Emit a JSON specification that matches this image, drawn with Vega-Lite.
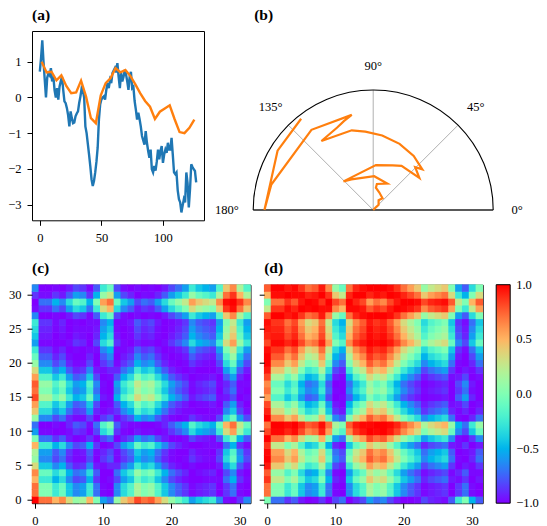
{
"$schema": "https://vega.github.io/schema/vega-lite/v6.json",
"padding": {"left": 7, "top": 7, "right": 2, "bottom": 10},
"config": {
  "font": "Liberation Serif",
  "view": {"stroke": "black", "strokeWidth": 1},
  "axis": {"grid": false, "domain": false, "tickColor": "black", "tickSize": 5, "tickWidth": 1, "labelColor": "black", "labelFontSize": 12.5, "labelFont": "Liberation Serif", "labelFlush": false, "labelAngle": 0},
  "axisX": {"labelPadding": 6},
  "axisY": {"labelPadding": 6},
  "title": {"font": "Liberation Serif", "fontSize": 15.5, "fontWeight": "bold", "anchor": "start", "frame": "group", "baseline": "alphabetic", "offset": 8, "color": "black"}
},
"datasets": {
  "ts": [
{"t":0,"v":0.72},{"t":1,"v":1.1},{"t":2,"v":1.6},{"t":3,"v":1.0},{"t":4,"v":0.5},{"t":5,"v":0.0},{"t":6,"v":0.55},{"t":7,"v":0.68},
{"t":8,"v":0.62},{"t":9,"v":0.82},{"t":10,"v":0.45},{"t":11,"v":0.58},{"t":12,"v":0.2},{"t":13,"v":0.0},{"t":14,"v":0.26},{"t":15,"v":-0.06},
{"t":16,"v":0.3},{"t":17,"v":0.45},{"t":18,"v":0.58},{"t":19,"v":0.21},{"t":20,"v":-0.11},{"t":21,"v":-0.16},{"t":22,"v":-0.3},{"t":23,"v":-0.5},
{"t":24,"v":-0.81},{"t":25,"v":-0.39},{"t":26,"v":-0.58},{"t":27,"v":-0.72},{"t":28,"v":-0.7},{"t":29,"v":-0.53},{"t":30,"v":-0.45},{"t":31,"v":-0.39},
{"t":32,"v":-0.15},{"t":33,"v":0.03},{"t":34,"v":0.26},{"t":35,"v":0.2},{"t":36,"v":0.0},{"t":37,"v":-0.81},{"t":38,"v":-1.0},{"t":39,"v":-1.3},
{"t":40,"v":-1.6},{"t":41,"v":-1.92},{"t":42,"v":-2.29},{"t":43,"v":-2.48},{"t":44,"v":-2.34},{"t":45,"v":-2.1},{"t":46,"v":-1.8},{"t":47,"v":-1.4},
{"t":48,"v":-0.62},{"t":49,"v":-0.2},{"t":50,"v":-0.06},{"t":51,"v":0.0},{"t":52,"v":0.03},{"t":53,"v":-0.06},{"t":54,"v":0.21},{"t":55,"v":0.4},
{"t":56,"v":0.26},{"t":57,"v":0.49},{"t":58,"v":0.4},{"t":59,"v":0.68},{"t":60,"v":0.75},{"t":61,"v":0.82},{"t":62,"v":0.7},{"t":63,"v":0.96},
{"t":64,"v":0.58},{"t":65,"v":0.26},{"t":66,"v":0.68},{"t":67,"v":0.45},{"t":68,"v":0.58},{"t":69,"v":0.77},{"t":70,"v":0.65},{"t":71,"v":0.45},
{"t":72,"v":0.21},{"t":73,"v":0.58},{"t":74,"v":0.72},{"t":75,"v":0.26},{"t":76,"v":0.3},{"t":77,"v":-0.1},{"t":78,"v":-0.34},{"t":79,"v":-0.62},
{"t":80,"v":-0.43},{"t":81,"v":-0.6},{"t":82,"v":-0.81},{"t":83,"v":-1.08},{"t":84,"v":-1.2},{"t":85,"v":-1.32},{"t":86,"v":-0.94},{"t":87,"v":-1.27},
{"t":88,"v":-1.5},{"t":89,"v":-1.69},{"t":90,"v":-1.46},{"t":91,"v":-2.01},{"t":92,"v":-2.1},{"t":93,"v":-1.92},{"t":94,"v":-2.05},{"t":95,"v":-1.8},
{"t":96,"v":-1.46},{"t":97,"v":-1.73},{"t":98,"v":-1.5},{"t":99,"v":-1.36},{"t":100,"v":-1.83},{"t":101,"v":-1.6},{"t":102,"v":-1.46},{"t":103,"v":-1.55},
{"t":104,"v":-1.27},{"t":105,"v":-1.46},{"t":106,"v":-1.46},{"t":107,"v":-1.13},{"t":108,"v":-1.6},{"t":109,"v":-2.1},{"t":110,"v":-2.15},{"t":111,"v":-2.1},
{"t":112,"v":-2.6},{"t":113,"v":-2.85},{"t":114,"v":-2.94},{"t":115,"v":-3.22},{"t":116,"v":-3.03},{"t":117,"v":-2.85},{"t":118,"v":-2.94},{"t":119,"v":-2.1},
{"t":120,"v":-2.4},{"t":121,"v":-3.08},{"t":122,"v":-2.57},{"t":123,"v":-1.87},{"t":124,"v":-1.95},{"t":125,"v":-2.01},{"t":126,"v":-2.06},{"t":127,"v":-2.38}
  ],
  "paa": [
{"t":1.5,"v":1.0},{"t":5.5,"v":0.7},{"t":9.5,"v":0.72},{"t":13.5,"v":0.48},{"t":17.5,"v":0.62},{"t":21.5,"v":0.32},{"t":25.5,"v":0.12},{"t":29.5,"v":0.14},
{"t":33.5,"v":0.47},{"t":37.5,"v":0.03},{"t":41.5,"v":-0.58},{"t":45.5,"v":-0.72},{"t":49.5,"v":0.06},{"t":53.5,"v":0.4},{"t":57.5,"v":0.54},{"t":61.5,"v":0.82},
{"t":65.5,"v":0.7},{"t":69.5,"v":0.77},{"t":73.5,"v":0.6},{"t":77.5,"v":0.37},{"t":81.5,"v":0.12},{"t":85.5,"v":-0.1},{"t":89.5,"v":-0.26},{"t":93.5,"v":-0.6},
{"t":97.5,"v":-0.4},{"t":101.5,"v":-0.31},{"t":105.5,"v":-0.22},{"t":109.5,"v":-0.61},{"t":113.5,"v":-0.97},{"t":117.5,"v":-1.0},{"t":121.5,"v":-0.85},{"t":125.5,"v":-0.62}
  ],
  "polar": [
{"k":0,"px":0,"py":0},{"k":1,"px":0.0219,"py":0.0223},{"k":2,"px":0.045,"py":0.0434},{"k":3,"px":0.045,"py":0.0822},
{"k":4,"px":0.0775,"py":0.0981},{"k":5,"px":0.05,"py":0.148},{"k":6,"px":0.0225,"py":0.1862},{"k":7,"px":0.0306,"py":0.2166},
{"k":8,"px":0.1175,"py":0.2208},{"k":9,"px":0.0084,"py":0.2812},{"k":10,"px":-0.1813,"py":0.2547},{"k":11,"px":-0.2475,"py":0.2386},
{"k":12,"px":0.0225,"py":0.3743},{"k":13,"px":0.1625,"py":0.3725},{"k":14,"px":0.2363,"py":0.3684},{"k":15,"px":0.3844,"py":0.2681},
{"k":16,"px":0.35,"py":0.357},{"k":17,"px":0.4091,"py":0.3389},{"k":18,"px":0.3375,"py":0.45},{"k":19,"px":0.2197,"py":0.5516},
{"k":20,"px":0.075,"py":0.6206},{"k":21,"px":-0.0656,"py":0.653},{"k":22,"px":-0.1788,"py":0.6641},{"k":23,"px":-0.4313,"py":0.575},
{"k":24,"px":-0.3,"py":0.6878},{"k":25,"px":-0.2422,"py":0.743},{"k":26,"px":-0.1788,"py":0.793},{"k":27,"px":-0.5147,"py":0.6683},
{"k":28,"px":-0.8488,"py":0.2126},{"k":29,"px":-0.9063,"py":0},{"k":30,"px":-0.7969,"py":0.4941},{"k":31,"px":-0.6006,"py":0.7605}
  ],
  "gaf": [
{"x":0,"y":0,"c":1,"d":0},{"x":1,"y":0,"c":0.71,"d":-0.71},{"x":2,"y":0,"c":0.71,"d":-0.71},{"x":3,"y":0,"c":0.5,"d":-0.87},{"x":4,"y":0,"c":0.64,"d":-0.77},{"x":5,"y":0,"c":0.34,"d":-0.94},{"x":6,"y":0,"c":0.09,"d":-1},{"x":7,"y":0,"c":0.17,"d":-0.98},{"x":8,"y":0,"c":0.5,"d":-0.87},{"x":9,"y":0,"c":0,"d":-1},{"x":10,"y":0,"c":-0.57,"d":-0.82},{"x":11,"y":0,"c":-0.71,"d":-0.71},{"x":12,"y":0,"c":0.09,"d":-1},{"x":13,"y":0,"c":0.42,"d":-0.91},{"x":14,"y":0,"c":0.57,"d":-0.82},{"x":15,"y":0,"c":0.82,"d":-0.57},{"x":16,"y":0,"c":0.71,"d":-0.71},{"x":17,"y":0,"c":0.77,"d":-0.64},{"x":18,"y":0,"c":0.57,"d":-0.82},{"x":19,"y":0,"c":0.34,"d":-0.94},{"x":20,"y":0,"c":0.09,"d":-1},{"x":21,"y":0,"c":-0.09,"d":-1},{"x":22,"y":0,"c":-0.26,"d":-0.97},{"x":23,"y":0,"c":-0.57,"d":-0.82},{"x":24,"y":0,"c":-0.42,"d":-0.91},{"x":25,"y":0,"c":-0.34,"d":-0.94},{"x":26,"y":0,"c":-0.26,"d":-0.97},{"x":27,"y":0,"c":-0.64,"d":-0.77},{"x":28,"y":0,"c":-0.97,"d":-0.26},{"x":29,"y":0,"c":-1,"d":0},{"x":30,"y":0,"c":-0.87,"d":-0.5},{"x":31,"y":0,"c":-0.64,"d":-0.77},
{"x":0,"y":1,"c":0.71,"d":0.71},{"x":1,"y":1,"c":0,"d":0},{"x":2,"y":1,"c":0,"d":0},{"x":3,"y":1,"c":-0.26,"d":-0.26},{"x":4,"y":1,"c":-0.09,"d":-0.09},{"x":5,"y":1,"c":-0.42,"d":-0.42},{"x":6,"y":1,"c":-0.64,"d":-0.64},{"x":7,"y":1,"c":-0.57,"d":-0.57},{"x":8,"y":1,"c":-0.26,"d":-0.26},{"x":9,"y":1,"c":-0.71,"d":-0.71},{"x":10,"y":1,"c":-0.98,"d":-0.98},{"x":11,"y":1,"c":-1,"d":-1},{"x":12,"y":1,"c":-0.64,"d":-0.64},{"x":13,"y":1,"c":-0.34,"d":-0.34},{"x":14,"y":1,"c":-0.17,"d":-0.17},{"x":15,"y":1,"c":0.17,"d":0.17},{"x":16,"y":1,"c":0,"d":0},{"x":17,"y":1,"c":0.09,"d":0.09},{"x":18,"y":1,"c":-0.17,"d":-0.17},{"x":19,"y":1,"c":-0.42,"d":-0.42},{"x":20,"y":1,"c":-0.64,"d":-0.64},{"x":21,"y":1,"c":-0.77,"d":-0.77},{"x":22,"y":1,"c":-0.87,"d":-0.87},{"x":23,"y":1,"c":-0.98,"d":-0.98},{"x":24,"y":1,"c":-0.94,"d":-0.94},{"x":25,"y":1,"c":-0.91,"d":-0.91},{"x":26,"y":1,"c":-0.87,"d":-0.87},{"x":27,"y":1,"c":-1,"d":-1},{"x":28,"y":1,"c":-0.87,"d":-0.87},{"x":29,"y":1,"c":-0.71,"d":-0.71},{"x":30,"y":1,"c":-0.97,"d":-0.97},{"x":31,"y":1,"c":-1,"d":-1},
{"x":0,"y":2,"c":0.71,"d":0.71},{"x":1,"y":2,"c":0,"d":0},{"x":2,"y":2,"c":0,"d":0},{"x":3,"y":2,"c":-0.26,"d":-0.26},{"x":4,"y":2,"c":-0.09,"d":-0.09},{"x":5,"y":2,"c":-0.42,"d":-0.42},{"x":6,"y":2,"c":-0.64,"d":-0.64},{"x":7,"y":2,"c":-0.57,"d":-0.57},{"x":8,"y":2,"c":-0.26,"d":-0.26},{"x":9,"y":2,"c":-0.71,"d":-0.71},{"x":10,"y":2,"c":-0.98,"d":-0.98},{"x":11,"y":2,"c":-1,"d":-1},{"x":12,"y":2,"c":-0.64,"d":-0.64},{"x":13,"y":2,"c":-0.34,"d":-0.34},{"x":14,"y":2,"c":-0.17,"d":-0.17},{"x":15,"y":2,"c":0.17,"d":0.17},{"x":16,"y":2,"c":0,"d":0},{"x":17,"y":2,"c":0.09,"d":0.09},{"x":18,"y":2,"c":-0.17,"d":-0.17},{"x":19,"y":2,"c":-0.42,"d":-0.42},{"x":20,"y":2,"c":-0.64,"d":-0.64},{"x":21,"y":2,"c":-0.77,"d":-0.77},{"x":22,"y":2,"c":-0.87,"d":-0.87},{"x":23,"y":2,"c":-0.98,"d":-0.98},{"x":24,"y":2,"c":-0.94,"d":-0.94},{"x":25,"y":2,"c":-0.91,"d":-0.91},{"x":26,"y":2,"c":-0.87,"d":-0.87},{"x":27,"y":2,"c":-1,"d":-1},{"x":28,"y":2,"c":-0.87,"d":-0.87},{"x":29,"y":2,"c":-0.71,"d":-0.71},{"x":30,"y":2,"c":-0.97,"d":-0.97},{"x":31,"y":2,"c":-1,"d":-1},
{"x":0,"y":3,"c":0.5,"d":0.87},{"x":1,"y":3,"c":-0.26,"d":0.26},{"x":2,"y":3,"c":-0.26,"d":0.26},{"x":3,"y":3,"c":-0.5,"d":0},{"x":4,"y":3,"c":-0.34,"d":0.17},{"x":5,"y":3,"c":-0.64,"d":-0.17},{"x":6,"y":3,"c":-0.82,"d":-0.42},{"x":7,"y":3,"c":-0.77,"d":-0.34},{"x":8,"y":3,"c":-0.5,"d":0},{"x":9,"y":3,"c":-0.87,"d":-0.5},{"x":10,"y":3,"c":-1,"d":-0.91},{"x":11,"y":3,"c":-0.97,"d":-0.97},{"x":12,"y":3,"c":-0.82,"d":-0.42},{"x":13,"y":3,"c":-0.57,"d":-0.09},{"x":14,"y":3,"c":-0.42,"d":0.09},{"x":15,"y":3,"c":-0.09,"d":0.42},{"x":16,"y":3,"c":-0.26,"d":0.26},{"x":17,"y":3,"c":-0.17,"d":0.34},{"x":18,"y":3,"c":-0.42,"d":0.09},{"x":19,"y":3,"c":-0.64,"d":-0.17},{"x":20,"y":3,"c":-0.82,"d":-0.42},{"x":21,"y":3,"c":-0.91,"d":-0.57},{"x":22,"y":3,"c":-0.97,"d":-0.71},{"x":23,"y":3,"c":-1,"d":-0.91},{"x":24,"y":3,"c":-1,"d":-0.82},{"x":25,"y":3,"c":-0.98,"d":-0.77},{"x":26,"y":3,"c":-0.97,"d":-0.71},{"x":27,"y":3,"c":-0.98,"d":-0.94},{"x":28,"y":3,"c":-0.71,"d":-0.97},{"x":29,"y":3,"c":-0.5,"d":-0.87},{"x":30,"y":3,"c":-0.87,"d":-1},{"x":31,"y":3,"c":-0.98,"d":-0.94},
{"x":0,"y":4,"c":0.64,"d":0.77},{"x":1,"y":4,"c":-0.09,"d":0.09},{"x":2,"y":4,"c":-0.09,"d":0.09},{"x":3,"y":4,"c":-0.34,"d":-0.17},{"x":4,"y":4,"c":-0.17,"d":0},{"x":5,"y":4,"c":-0.5,"d":-0.34},{"x":6,"y":4,"c":-0.71,"d":-0.57},{"x":7,"y":4,"c":-0.64,"d":-0.5},{"x":8,"y":4,"c":-0.34,"d":-0.17},{"x":9,"y":4,"c":-0.77,"d":-0.64},{"x":10,"y":4,"c":-1,"d":-0.97},{"x":11,"y":4,"c":-1,"d":-1},{"x":12,"y":4,"c":-0.71,"d":-0.57},{"x":13,"y":4,"c":-0.42,"d":-0.26},{"x":14,"y":4,"c":-0.26,"d":-0.09},{"x":15,"y":4,"c":0.09,"d":0.26},{"x":16,"y":4,"c":-0.09,"d":0.09},{"x":17,"y":4,"c":0,"d":0.17},{"x":18,"y":4,"c":-0.26,"d":-0.09},{"x":19,"y":4,"c":-0.5,"d":-0.34},{"x":20,"y":4,"c":-0.71,"d":-0.57},{"x":21,"y":4,"c":-0.82,"d":-0.71},{"x":22,"y":4,"c":-0.91,"d":-0.82},{"x":23,"y":4,"c":-1,"d":-0.97},{"x":24,"y":4,"c":-0.97,"d":-0.91},{"x":25,"y":4,"c":-0.94,"d":-0.87},{"x":26,"y":4,"c":-0.91,"d":-0.82},{"x":27,"y":4,"c":-1,"d":-0.98},{"x":28,"y":4,"c":-0.82,"d":-0.91},{"x":29,"y":4,"c":-0.64,"d":-0.77},{"x":30,"y":4,"c":-0.94,"d":-0.98},{"x":31,"y":4,"c":-1,"d":-0.98},
{"x":0,"y":5,"c":0.34,"d":0.94},{"x":1,"y":5,"c":-0.42,"d":0.42},{"x":2,"y":5,"c":-0.42,"d":0.42},{"x":3,"y":5,"c":-0.64,"d":0.17},{"x":4,"y":5,"c":-0.5,"d":0.34},{"x":5,"y":5,"c":-0.77,"d":0},{"x":6,"y":5,"c":-0.91,"d":-0.26},{"x":7,"y":5,"c":-0.87,"d":-0.17},{"x":8,"y":5,"c":-0.64,"d":0.17},{"x":9,"y":5,"c":-0.94,"d":-0.34},{"x":10,"y":5,"c":-0.97,"d":-0.82},{"x":11,"y":5,"c":-0.91,"d":-0.91},{"x":12,"y":5,"c":-0.91,"d":-0.26},{"x":13,"y":5,"c":-0.71,"d":0.09},{"x":14,"y":5,"c":-0.57,"d":0.26},{"x":15,"y":5,"c":-0.26,"d":0.57},{"x":16,"y":5,"c":-0.42,"d":0.42},{"x":17,"y":5,"c":-0.34,"d":0.5},{"x":18,"y":5,"c":-0.57,"d":0.26},{"x":19,"y":5,"c":-0.77,"d":0},{"x":20,"y":5,"c":-0.91,"d":-0.26},{"x":21,"y":5,"c":-0.97,"d":-0.42},{"x":22,"y":5,"c":-1,"d":-0.57},{"x":23,"y":5,"c":-0.97,"d":-0.82},{"x":24,"y":5,"c":-1,"d":-0.71},{"x":25,"y":5,"c":-1,"d":-0.64},{"x":26,"y":5,"c":-1,"d":-0.57},{"x":27,"y":5,"c":-0.94,"d":-0.87},{"x":28,"y":5,"c":-0.57,"d":-1},{"x":29,"y":5,"c":-0.34,"d":-0.94},{"x":30,"y":5,"c":-0.77,"d":-0.98},{"x":31,"y":5,"c":-0.94,"d":-0.87},
{"x":0,"y":6,"c":0.09,"d":1},{"x":1,"y":6,"c":-0.64,"d":0.64},{"x":2,"y":6,"c":-0.64,"d":0.64},{"x":3,"y":6,"c":-0.82,"d":0.42},{"x":4,"y":6,"c":-0.71,"d":0.57},{"x":5,"y":6,"c":-0.91,"d":0.26},{"x":6,"y":6,"c":-0.98,"d":0},{"x":7,"y":6,"c":-0.97,"d":0.09},{"x":8,"y":6,"c":-0.82,"d":0.42},{"x":9,"y":6,"c":-1,"d":-0.09},{"x":10,"y":6,"c":-0.87,"d":-0.64},{"x":11,"y":6,"c":-0.77,"d":-0.77},{"x":12,"y":6,"c":-0.98,"d":0},{"x":13,"y":6,"c":-0.87,"d":0.34},{"x":14,"y":6,"c":-0.77,"d":0.5},{"x":15,"y":6,"c":-0.5,"d":0.77},{"x":16,"y":6,"c":-0.64,"d":0.64},{"x":17,"y":6,"c":-0.57,"d":0.71},{"x":18,"y":6,"c":-0.77,"d":0.5},{"x":19,"y":6,"c":-0.91,"d":0.26},{"x":20,"y":6,"c":-0.98,"d":0},{"x":21,"y":6,"c":-1,"d":-0.17},{"x":22,"y":6,"c":-0.98,"d":-0.34},{"x":23,"y":6,"c":-0.87,"d":-0.64},{"x":24,"y":6,"c":-0.94,"d":-0.5},{"x":25,"y":6,"c":-0.97,"d":-0.42},{"x":26,"y":6,"c":-0.98,"d":-0.34},{"x":27,"y":6,"c":-0.82,"d":-0.71},{"x":28,"y":6,"c":-0.34,"d":-0.98},{"x":29,"y":6,"c":-0.09,"d":-1},{"x":30,"y":6,"c":-0.57,"d":-0.91},{"x":31,"y":6,"c":-0.82,"d":-0.71},
{"x":0,"y":7,"c":0.17,"d":0.98},{"x":1,"y":7,"c":-0.57,"d":0.57},{"x":2,"y":7,"c":-0.57,"d":0.57},{"x":3,"y":7,"c":-0.77,"d":0.34},{"x":4,"y":7,"c":-0.64,"d":0.5},{"x":5,"y":7,"c":-0.87,"d":0.17},{"x":6,"y":7,"c":-0.97,"d":-0.09},{"x":7,"y":7,"c":-0.94,"d":0},{"x":8,"y":7,"c":-0.77,"d":0.34},{"x":9,"y":7,"c":-0.98,"d":-0.17},{"x":10,"y":7,"c":-0.91,"d":-0.71},{"x":11,"y":7,"c":-0.82,"d":-0.82},{"x":12,"y":7,"c":-0.97,"d":-0.09},{"x":13,"y":7,"c":-0.82,"d":0.26},{"x":14,"y":7,"c":-0.71,"d":0.42},{"x":15,"y":7,"c":-0.42,"d":0.71},{"x":16,"y":7,"c":-0.57,"d":0.57},{"x":17,"y":7,"c":-0.5,"d":0.64},{"x":18,"y":7,"c":-0.71,"d":0.42},{"x":19,"y":7,"c":-0.87,"d":0.17},{"x":20,"y":7,"c":-0.97,"d":-0.09},{"x":21,"y":7,"c":-1,"d":-0.26},{"x":22,"y":7,"c":-1,"d":-0.42},{"x":23,"y":7,"c":-0.91,"d":-0.71},{"x":24,"y":7,"c":-0.97,"d":-0.57},{"x":25,"y":7,"c":-0.98,"d":-0.5},{"x":26,"y":7,"c":-1,"d":-0.42},{"x":27,"y":7,"c":-0.87,"d":-0.77},{"x":28,"y":7,"c":-0.42,"d":-1},{"x":29,"y":7,"c":-0.17,"d":-0.98},{"x":30,"y":7,"c":-0.64,"d":-0.94},{"x":31,"y":7,"c":-0.87,"d":-0.77},
{"x":0,"y":8,"c":0.5,"d":0.87},{"x":1,"y":8,"c":-0.26,"d":0.26},{"x":2,"y":8,"c":-0.26,"d":0.26},{"x":3,"y":8,"c":-0.5,"d":0},{"x":4,"y":8,"c":-0.34,"d":0.17},{"x":5,"y":8,"c":-0.64,"d":-0.17},{"x":6,"y":8,"c":-0.82,"d":-0.42},{"x":7,"y":8,"c":-0.77,"d":-0.34},{"x":8,"y":8,"c":-0.5,"d":0},{"x":9,"y":8,"c":-0.87,"d":-0.5},{"x":10,"y":8,"c":-1,"d":-0.91},{"x":11,"y":8,"c":-0.97,"d":-0.97},{"x":12,"y":8,"c":-0.82,"d":-0.42},{"x":13,"y":8,"c":-0.57,"d":-0.09},{"x":14,"y":8,"c":-0.42,"d":0.09},{"x":15,"y":8,"c":-0.09,"d":0.42},{"x":16,"y":8,"c":-0.26,"d":0.26},{"x":17,"y":8,"c":-0.17,"d":0.34},{"x":18,"y":8,"c":-0.42,"d":0.09},{"x":19,"y":8,"c":-0.64,"d":-0.17},{"x":20,"y":8,"c":-0.82,"d":-0.42},{"x":21,"y":8,"c":-0.91,"d":-0.57},{"x":22,"y":8,"c":-0.97,"d":-0.71},{"x":23,"y":8,"c":-1,"d":-0.91},{"x":24,"y":8,"c":-1,"d":-0.82},{"x":25,"y":8,"c":-0.98,"d":-0.77},{"x":26,"y":8,"c":-0.97,"d":-0.71},{"x":27,"y":8,"c":-0.98,"d":-0.94},{"x":28,"y":8,"c":-0.71,"d":-0.97},{"x":29,"y":8,"c":-0.5,"d":-0.87},{"x":30,"y":8,"c":-0.87,"d":-1},{"x":31,"y":8,"c":-0.98,"d":-0.94},
{"x":0,"y":9,"c":0,"d":1},{"x":1,"y":9,"c":-0.71,"d":0.71},{"x":2,"y":9,"c":-0.71,"d":0.71},{"x":3,"y":9,"c":-0.87,"d":0.5},{"x":4,"y":9,"c":-0.77,"d":0.64},{"x":5,"y":9,"c":-0.94,"d":0.34},{"x":6,"y":9,"c":-1,"d":0.09},{"x":7,"y":9,"c":-0.98,"d":0.17},{"x":8,"y":9,"c":-0.87,"d":0.5},{"x":9,"y":9,"c":-1,"d":0},{"x":10,"y":9,"c":-0.82,"d":-0.57},{"x":11,"y":9,"c":-0.71,"d":-0.71},{"x":12,"y":9,"c":-1,"d":0.09},{"x":13,"y":9,"c":-0.91,"d":0.42},{"x":14,"y":9,"c":-0.82,"d":0.57},{"x":15,"y":9,"c":-0.57,"d":0.82},{"x":16,"y":9,"c":-0.71,"d":0.71},{"x":17,"y":9,"c":-0.64,"d":0.77},{"x":18,"y":9,"c":-0.82,"d":0.57},{"x":19,"y":9,"c":-0.94,"d":0.34},{"x":20,"y":9,"c":-1,"d":0.09},{"x":21,"y":9,"c":-1,"d":-0.09},{"x":22,"y":9,"c":-0.97,"d":-0.26},{"x":23,"y":9,"c":-0.82,"d":-0.57},{"x":24,"y":9,"c":-0.91,"d":-0.42},{"x":25,"y":9,"c":-0.94,"d":-0.34},{"x":26,"y":9,"c":-0.97,"d":-0.26},{"x":27,"y":9,"c":-0.77,"d":-0.64},{"x":28,"y":9,"c":-0.26,"d":-0.97},{"x":29,"y":9,"c":0,"d":-1},{"x":30,"y":9,"c":-0.5,"d":-0.87},{"x":31,"y":9,"c":-0.77,"d":-0.64},
{"x":0,"y":10,"c":-0.57,"d":0.82},{"x":1,"y":10,"c":-0.98,"d":0.98},{"x":2,"y":10,"c":-0.98,"d":0.98},{"x":3,"y":10,"c":-1,"d":0.91},{"x":4,"y":10,"c":-1,"d":0.97},{"x":5,"y":10,"c":-0.97,"d":0.82},{"x":6,"y":10,"c":-0.87,"d":0.64},{"x":7,"y":10,"c":-0.91,"d":0.71},{"x":8,"y":10,"c":-1,"d":0.91},{"x":9,"y":10,"c":-0.82,"d":0.57},{"x":10,"y":10,"c":-0.34,"d":0},{"x":11,"y":10,"c":-0.17,"d":-0.17},{"x":12,"y":10,"c":-0.87,"d":0.64},{"x":13,"y":10,"c":-0.98,"d":0.87},{"x":14,"y":10,"c":-1,"d":0.94},{"x":15,"y":10,"c":-0.94,"d":1},{"x":16,"y":10,"c":-0.98,"d":0.98},{"x":17,"y":10,"c":-0.97,"d":1},{"x":18,"y":10,"c":-1,"d":0.94},{"x":19,"y":10,"c":-0.97,"d":0.82},{"x":20,"y":10,"c":-0.87,"d":0.64},{"x":21,"y":10,"c":-0.77,"d":0.5},{"x":22,"y":10,"c":-0.64,"d":0.34},{"x":23,"y":10,"c":-0.34,"d":0},{"x":24,"y":10,"c":-0.5,"d":0.17},{"x":25,"y":10,"c":-0.57,"d":0.26},{"x":26,"y":10,"c":-0.64,"d":0.34},{"x":27,"y":10,"c":-0.26,"d":-0.09},{"x":28,"y":10,"c":0.34,"d":-0.64},{"x":29,"y":10,"c":0.57,"d":-0.82},{"x":30,"y":10,"c":0.09,"d":-0.42},{"x":31,"y":10,"c":-0.26,"d":-0.09},
{"x":0,"y":11,"c":-0.71,"d":0.71},{"x":1,"y":11,"c":-1,"d":1},{"x":2,"y":11,"c":-1,"d":1},{"x":3,"y":11,"c":-0.97,"d":0.97},{"x":4,"y":11,"c":-1,"d":1},{"x":5,"y":11,"c":-0.91,"d":0.91},{"x":6,"y":11,"c":-0.77,"d":0.77},{"x":7,"y":11,"c":-0.82,"d":0.82},{"x":8,"y":11,"c":-0.97,"d":0.97},{"x":9,"y":11,"c":-0.71,"d":0.71},{"x":10,"y":11,"c":-0.17,"d":0.17},{"x":11,"y":11,"c":0,"d":0},{"x":12,"y":11,"c":-0.77,"d":0.77},{"x":13,"y":11,"c":-0.94,"d":0.94},{"x":14,"y":11,"c":-0.98,"d":0.98},{"x":15,"y":11,"c":-0.98,"d":0.98},{"x":16,"y":11,"c":-1,"d":1},{"x":17,"y":11,"c":-1,"d":1},{"x":18,"y":11,"c":-0.98,"d":0.98},{"x":19,"y":11,"c":-0.91,"d":0.91},{"x":20,"y":11,"c":-0.77,"d":0.77},{"x":21,"y":11,"c":-0.64,"d":0.64},{"x":22,"y":11,"c":-0.5,"d":0.5},{"x":23,"y":11,"c":-0.17,"d":0.17},{"x":24,"y":11,"c":-0.34,"d":0.34},{"x":25,"y":11,"c":-0.42,"d":0.42},{"x":26,"y":11,"c":-0.5,"d":0.5},{"x":27,"y":11,"c":-0.09,"d":0.09},{"x":28,"y":11,"c":0.5,"d":-0.5},{"x":29,"y":11,"c":0.71,"d":-0.71},{"x":30,"y":11,"c":0.26,"d":-0.26},{"x":31,"y":11,"c":-0.09,"d":0.09},
{"x":0,"y":12,"c":0.09,"d":1},{"x":1,"y":12,"c":-0.64,"d":0.64},{"x":2,"y":12,"c":-0.64,"d":0.64},{"x":3,"y":12,"c":-0.82,"d":0.42},{"x":4,"y":12,"c":-0.71,"d":0.57},{"x":5,"y":12,"c":-0.91,"d":0.26},{"x":6,"y":12,"c":-0.98,"d":0},{"x":7,"y":12,"c":-0.97,"d":0.09},{"x":8,"y":12,"c":-0.82,"d":0.42},{"x":9,"y":12,"c":-1,"d":-0.09},{"x":10,"y":12,"c":-0.87,"d":-0.64},{"x":11,"y":12,"c":-0.77,"d":-0.77},{"x":12,"y":12,"c":-0.98,"d":0},{"x":13,"y":12,"c":-0.87,"d":0.34},{"x":14,"y":12,"c":-0.77,"d":0.5},{"x":15,"y":12,"c":-0.5,"d":0.77},{"x":16,"y":12,"c":-0.64,"d":0.64},{"x":17,"y":12,"c":-0.57,"d":0.71},{"x":18,"y":12,"c":-0.77,"d":0.5},{"x":19,"y":12,"c":-0.91,"d":0.26},{"x":20,"y":12,"c":-0.98,"d":0},{"x":21,"y":12,"c":-1,"d":-0.17},{"x":22,"y":12,"c":-0.98,"d":-0.34},{"x":23,"y":12,"c":-0.87,"d":-0.64},{"x":24,"y":12,"c":-0.94,"d":-0.5},{"x":25,"y":12,"c":-0.97,"d":-0.42},{"x":26,"y":12,"c":-0.98,"d":-0.34},{"x":27,"y":12,"c":-0.82,"d":-0.71},{"x":28,"y":12,"c":-0.34,"d":-0.98},{"x":29,"y":12,"c":-0.09,"d":-1},{"x":30,"y":12,"c":-0.57,"d":-0.91},{"x":31,"y":12,"c":-0.82,"d":-0.71},
{"x":0,"y":13,"c":0.42,"d":0.91},{"x":1,"y":13,"c":-0.34,"d":0.34},{"x":2,"y":13,"c":-0.34,"d":0.34},{"x":3,"y":13,"c":-0.57,"d":0.09},{"x":4,"y":13,"c":-0.42,"d":0.26},{"x":5,"y":13,"c":-0.71,"d":-0.09},{"x":6,"y":13,"c":-0.87,"d":-0.34},{"x":7,"y":13,"c":-0.82,"d":-0.26},{"x":8,"y":13,"c":-0.57,"d":0.09},{"x":9,"y":13,"c":-0.91,"d":-0.42},{"x":10,"y":13,"c":-0.98,"d":-0.87},{"x":11,"y":13,"c":-0.94,"d":-0.94},{"x":12,"y":13,"c":-0.87,"d":-0.34},{"x":13,"y":13,"c":-0.64,"d":0},{"x":14,"y":13,"c":-0.5,"d":0.17},{"x":15,"y":13,"c":-0.17,"d":0.5},{"x":16,"y":13,"c":-0.34,"d":0.34},{"x":17,"y":13,"c":-0.26,"d":0.42},{"x":18,"y":13,"c":-0.5,"d":0.17},{"x":19,"y":13,"c":-0.71,"d":-0.09},{"x":20,"y":13,"c":-0.87,"d":-0.34},{"x":21,"y":13,"c":-0.94,"d":-0.5},{"x":22,"y":13,"c":-0.98,"d":-0.64},{"x":23,"y":13,"c":-0.98,"d":-0.87},{"x":24,"y":13,"c":-1,"d":-0.77},{"x":25,"y":13,"c":-1,"d":-0.71},{"x":26,"y":13,"c":-0.98,"d":-0.64},{"x":27,"y":13,"c":-0.97,"d":-0.91},{"x":28,"y":13,"c":-0.64,"d":-0.98},{"x":29,"y":13,"c":-0.42,"d":-0.91},{"x":30,"y":13,"c":-0.82,"d":-1},{"x":31,"y":13,"c":-0.97,"d":-0.91},
{"x":0,"y":14,"c":0.57,"d":0.82},{"x":1,"y":14,"c":-0.17,"d":0.17},{"x":2,"y":14,"c":-0.17,"d":0.17},{"x":3,"y":14,"c":-0.42,"d":-0.09},{"x":4,"y":14,"c":-0.26,"d":0.09},{"x":5,"y":14,"c":-0.57,"d":-0.26},{"x":6,"y":14,"c":-0.77,"d":-0.5},{"x":7,"y":14,"c":-0.71,"d":-0.42},{"x":8,"y":14,"c":-0.42,"d":-0.09},{"x":9,"y":14,"c":-0.82,"d":-0.57},{"x":10,"y":14,"c":-1,"d":-0.94},{"x":11,"y":14,"c":-0.98,"d":-0.98},{"x":12,"y":14,"c":-0.77,"d":-0.5},{"x":13,"y":14,"c":-0.5,"d":-0.17},{"x":14,"y":14,"c":-0.34,"d":0},{"x":15,"y":14,"c":0,"d":0.34},{"x":16,"y":14,"c":-0.17,"d":0.17},{"x":17,"y":14,"c":-0.09,"d":0.26},{"x":18,"y":14,"c":-0.34,"d":0},{"x":19,"y":14,"c":-0.57,"d":-0.26},{"x":20,"y":14,"c":-0.77,"d":-0.5},{"x":21,"y":14,"c":-0.87,"d":-0.64},{"x":22,"y":14,"c":-0.94,"d":-0.77},{"x":23,"y":14,"c":-1,"d":-0.94},{"x":24,"y":14,"c":-0.98,"d":-0.87},{"x":25,"y":14,"c":-0.97,"d":-0.82},{"x":26,"y":14,"c":-0.94,"d":-0.77},{"x":27,"y":14,"c":-1,"d":-0.97},{"x":28,"y":14,"c":-0.77,"d":-0.94},{"x":29,"y":14,"c":-0.57,"d":-0.82},{"x":30,"y":14,"c":-0.91,"d":-1},{"x":31,"y":14,"c":-1,"d":-0.97},
{"x":0,"y":15,"c":0.82,"d":0.57},{"x":1,"y":15,"c":0.17,"d":-0.17},{"x":2,"y":15,"c":0.17,"d":-0.17},{"x":3,"y":15,"c":-0.09,"d":-0.42},{"x":4,"y":15,"c":0.09,"d":-0.26},{"x":5,"y":15,"c":-0.26,"d":-0.57},{"x":6,"y":15,"c":-0.5,"d":-0.77},{"x":7,"y":15,"c":-0.42,"d":-0.71},{"x":8,"y":15,"c":-0.09,"d":-0.42},{"x":9,"y":15,"c":-0.57,"d":-0.82},{"x":10,"y":15,"c":-0.94,"d":-1},{"x":11,"y":15,"c":-0.98,"d":-0.98},{"x":12,"y":15,"c":-0.5,"d":-0.77},{"x":13,"y":15,"c":-0.17,"d":-0.5},{"x":14,"y":15,"c":0,"d":-0.34},{"x":15,"y":15,"c":0.34,"d":0},{"x":16,"y":15,"c":0.17,"d":-0.17},{"x":17,"y":15,"c":0.26,"d":-0.09},{"x":18,"y":15,"c":0,"d":-0.34},{"x":19,"y":15,"c":-0.26,"d":-0.57},{"x":20,"y":15,"c":-0.5,"d":-0.77},{"x":21,"y":15,"c":-0.64,"d":-0.87},{"x":22,"y":15,"c":-0.77,"d":-0.94},{"x":23,"y":15,"c":-0.94,"d":-1},{"x":24,"y":15,"c":-0.87,"d":-0.98},{"x":25,"y":15,"c":-0.82,"d":-0.97},{"x":26,"y":15,"c":-0.77,"d":-0.94},{"x":27,"y":15,"c":-0.97,"d":-1},{"x":28,"y":15,"c":-0.94,"d":-0.77},{"x":29,"y":15,"c":-0.82,"d":-0.57},{"x":30,"y":15,"c":-1,"d":-0.91},{"x":31,"y":15,"c":-0.97,"d":-1},
{"x":0,"y":16,"c":0.71,"d":0.71},{"x":1,"y":16,"c":0,"d":0},{"x":2,"y":16,"c":0,"d":0},{"x":3,"y":16,"c":-0.26,"d":-0.26},{"x":4,"y":16,"c":-0.09,"d":-0.09},{"x":5,"y":16,"c":-0.42,"d":-0.42},{"x":6,"y":16,"c":-0.64,"d":-0.64},{"x":7,"y":16,"c":-0.57,"d":-0.57},{"x":8,"y":16,"c":-0.26,"d":-0.26},{"x":9,"y":16,"c":-0.71,"d":-0.71},{"x":10,"y":16,"c":-0.98,"d":-0.98},{"x":11,"y":16,"c":-1,"d":-1},{"x":12,"y":16,"c":-0.64,"d":-0.64},{"x":13,"y":16,"c":-0.34,"d":-0.34},{"x":14,"y":16,"c":-0.17,"d":-0.17},{"x":15,"y":16,"c":0.17,"d":0.17},{"x":16,"y":16,"c":0,"d":0},{"x":17,"y":16,"c":0.09,"d":0.09},{"x":18,"y":16,"c":-0.17,"d":-0.17},{"x":19,"y":16,"c":-0.42,"d":-0.42},{"x":20,"y":16,"c":-0.64,"d":-0.64},{"x":21,"y":16,"c":-0.77,"d":-0.77},{"x":22,"y":16,"c":-0.87,"d":-0.87},{"x":23,"y":16,"c":-0.98,"d":-0.98},{"x":24,"y":16,"c":-0.94,"d":-0.94},{"x":25,"y":16,"c":-0.91,"d":-0.91},{"x":26,"y":16,"c":-0.87,"d":-0.87},{"x":27,"y":16,"c":-1,"d":-1},{"x":28,"y":16,"c":-0.87,"d":-0.87},{"x":29,"y":16,"c":-0.71,"d":-0.71},{"x":30,"y":16,"c":-0.97,"d":-0.97},{"x":31,"y":16,"c":-1,"d":-1},
{"x":0,"y":17,"c":0.77,"d":0.64},{"x":1,"y":17,"c":0.09,"d":-0.09},{"x":2,"y":17,"c":0.09,"d":-0.09},{"x":3,"y":17,"c":-0.17,"d":-0.34},{"x":4,"y":17,"c":0,"d":-0.17},{"x":5,"y":17,"c":-0.34,"d":-0.5},{"x":6,"y":17,"c":-0.57,"d":-0.71},{"x":7,"y":17,"c":-0.5,"d":-0.64},{"x":8,"y":17,"c":-0.17,"d":-0.34},{"x":9,"y":17,"c":-0.64,"d":-0.77},{"x":10,"y":17,"c":-0.97,"d":-1},{"x":11,"y":17,"c":-1,"d":-1},{"x":12,"y":17,"c":-0.57,"d":-0.71},{"x":13,"y":17,"c":-0.26,"d":-0.42},{"x":14,"y":17,"c":-0.09,"d":-0.26},{"x":15,"y":17,"c":0.26,"d":0.09},{"x":16,"y":17,"c":0.09,"d":-0.09},{"x":17,"y":17,"c":0.17,"d":0},{"x":18,"y":17,"c":-0.09,"d":-0.26},{"x":19,"y":17,"c":-0.34,"d":-0.5},{"x":20,"y":17,"c":-0.57,"d":-0.71},{"x":21,"y":17,"c":-0.71,"d":-0.82},{"x":22,"y":17,"c":-0.82,"d":-0.91},{"x":23,"y":17,"c":-0.97,"d":-1},{"x":24,"y":17,"c":-0.91,"d":-0.97},{"x":25,"y":17,"c":-0.87,"d":-0.94},{"x":26,"y":17,"c":-0.82,"d":-0.91},{"x":27,"y":17,"c":-0.98,"d":-1},{"x":28,"y":17,"c":-0.91,"d":-0.82},{"x":29,"y":17,"c":-0.77,"d":-0.64},{"x":30,"y":17,"c":-0.98,"d":-0.94},{"x":31,"y":17,"c":-0.98,"d":-1},
{"x":0,"y":18,"c":0.57,"d":0.82},{"x":1,"y":18,"c":-0.17,"d":0.17},{"x":2,"y":18,"c":-0.17,"d":0.17},{"x":3,"y":18,"c":-0.42,"d":-0.09},{"x":4,"y":18,"c":-0.26,"d":0.09},{"x":5,"y":18,"c":-0.57,"d":-0.26},{"x":6,"y":18,"c":-0.77,"d":-0.5},{"x":7,"y":18,"c":-0.71,"d":-0.42},{"x":8,"y":18,"c":-0.42,"d":-0.09},{"x":9,"y":18,"c":-0.82,"d":-0.57},{"x":10,"y":18,"c":-1,"d":-0.94},{"x":11,"y":18,"c":-0.98,"d":-0.98},{"x":12,"y":18,"c":-0.77,"d":-0.5},{"x":13,"y":18,"c":-0.5,"d":-0.17},{"x":14,"y":18,"c":-0.34,"d":0},{"x":15,"y":18,"c":0,"d":0.34},{"x":16,"y":18,"c":-0.17,"d":0.17},{"x":17,"y":18,"c":-0.09,"d":0.26},{"x":18,"y":18,"c":-0.34,"d":0},{"x":19,"y":18,"c":-0.57,"d":-0.26},{"x":20,"y":18,"c":-0.77,"d":-0.5},{"x":21,"y":18,"c":-0.87,"d":-0.64},{"x":22,"y":18,"c":-0.94,"d":-0.77},{"x":23,"y":18,"c":-1,"d":-0.94},{"x":24,"y":18,"c":-0.98,"d":-0.87},{"x":25,"y":18,"c":-0.97,"d":-0.82},{"x":26,"y":18,"c":-0.94,"d":-0.77},{"x":27,"y":18,"c":-1,"d":-0.97},{"x":28,"y":18,"c":-0.77,"d":-0.94},{"x":29,"y":18,"c":-0.57,"d":-0.82},{"x":30,"y":18,"c":-0.91,"d":-1},{"x":31,"y":18,"c":-1,"d":-0.97},
{"x":0,"y":19,"c":0.34,"d":0.94},{"x":1,"y":19,"c":-0.42,"d":0.42},{"x":2,"y":19,"c":-0.42,"d":0.42},{"x":3,"y":19,"c":-0.64,"d":0.17},{"x":4,"y":19,"c":-0.5,"d":0.34},{"x":5,"y":19,"c":-0.77,"d":0},{"x":6,"y":19,"c":-0.91,"d":-0.26},{"x":7,"y":19,"c":-0.87,"d":-0.17},{"x":8,"y":19,"c":-0.64,"d":0.17},{"x":9,"y":19,"c":-0.94,"d":-0.34},{"x":10,"y":19,"c":-0.97,"d":-0.82},{"x":11,"y":19,"c":-0.91,"d":-0.91},{"x":12,"y":19,"c":-0.91,"d":-0.26},{"x":13,"y":19,"c":-0.71,"d":0.09},{"x":14,"y":19,"c":-0.57,"d":0.26},{"x":15,"y":19,"c":-0.26,"d":0.57},{"x":16,"y":19,"c":-0.42,"d":0.42},{"x":17,"y":19,"c":-0.34,"d":0.5},{"x":18,"y":19,"c":-0.57,"d":0.26},{"x":19,"y":19,"c":-0.77,"d":0},{"x":20,"y":19,"c":-0.91,"d":-0.26},{"x":21,"y":19,"c":-0.97,"d":-0.42},{"x":22,"y":19,"c":-1,"d":-0.57},{"x":23,"y":19,"c":-0.97,"d":-0.82},{"x":24,"y":19,"c":-1,"d":-0.71},{"x":25,"y":19,"c":-1,"d":-0.64},{"x":26,"y":19,"c":-1,"d":-0.57},{"x":27,"y":19,"c":-0.94,"d":-0.87},{"x":28,"y":19,"c":-0.57,"d":-1},{"x":29,"y":19,"c":-0.34,"d":-0.94},{"x":30,"y":19,"c":-0.77,"d":-0.98},{"x":31,"y":19,"c":-0.94,"d":-0.87},
{"x":0,"y":20,"c":0.09,"d":1},{"x":1,"y":20,"c":-0.64,"d":0.64},{"x":2,"y":20,"c":-0.64,"d":0.64},{"x":3,"y":20,"c":-0.82,"d":0.42},{"x":4,"y":20,"c":-0.71,"d":0.57},{"x":5,"y":20,"c":-0.91,"d":0.26},{"x":6,"y":20,"c":-0.98,"d":0},{"x":7,"y":20,"c":-0.97,"d":0.09},{"x":8,"y":20,"c":-0.82,"d":0.42},{"x":9,"y":20,"c":-1,"d":-0.09},{"x":10,"y":20,"c":-0.87,"d":-0.64},{"x":11,"y":20,"c":-0.77,"d":-0.77},{"x":12,"y":20,"c":-0.98,"d":0},{"x":13,"y":20,"c":-0.87,"d":0.34},{"x":14,"y":20,"c":-0.77,"d":0.5},{"x":15,"y":20,"c":-0.5,"d":0.77},{"x":16,"y":20,"c":-0.64,"d":0.64},{"x":17,"y":20,"c":-0.57,"d":0.71},{"x":18,"y":20,"c":-0.77,"d":0.5},{"x":19,"y":20,"c":-0.91,"d":0.26},{"x":20,"y":20,"c":-0.98,"d":0},{"x":21,"y":20,"c":-1,"d":-0.17},{"x":22,"y":20,"c":-0.98,"d":-0.34},{"x":23,"y":20,"c":-0.87,"d":-0.64},{"x":24,"y":20,"c":-0.94,"d":-0.5},{"x":25,"y":20,"c":-0.97,"d":-0.42},{"x":26,"y":20,"c":-0.98,"d":-0.34},{"x":27,"y":20,"c":-0.82,"d":-0.71},{"x":28,"y":20,"c":-0.34,"d":-0.98},{"x":29,"y":20,"c":-0.09,"d":-1},{"x":30,"y":20,"c":-0.57,"d":-0.91},{"x":31,"y":20,"c":-0.82,"d":-0.71},
{"x":0,"y":21,"c":-0.09,"d":1},{"x":1,"y":21,"c":-0.77,"d":0.77},{"x":2,"y":21,"c":-0.77,"d":0.77},{"x":3,"y":21,"c":-0.91,"d":0.57},{"x":4,"y":21,"c":-0.82,"d":0.71},{"x":5,"y":21,"c":-0.97,"d":0.42},{"x":6,"y":21,"c":-1,"d":0.17},{"x":7,"y":21,"c":-1,"d":0.26},{"x":8,"y":21,"c":-0.91,"d":0.57},{"x":9,"y":21,"c":-1,"d":0.09},{"x":10,"y":21,"c":-0.77,"d":-0.5},{"x":11,"y":21,"c":-0.64,"d":-0.64},{"x":12,"y":21,"c":-1,"d":0.17},{"x":13,"y":21,"c":-0.94,"d":0.5},{"x":14,"y":21,"c":-0.87,"d":0.64},{"x":15,"y":21,"c":-0.64,"d":0.87},{"x":16,"y":21,"c":-0.77,"d":0.77},{"x":17,"y":21,"c":-0.71,"d":0.82},{"x":18,"y":21,"c":-0.87,"d":0.64},{"x":19,"y":21,"c":-0.97,"d":0.42},{"x":20,"y":21,"c":-1,"d":0.17},{"x":21,"y":21,"c":-0.98,"d":0},{"x":22,"y":21,"c":-0.94,"d":-0.17},{"x":23,"y":21,"c":-0.77,"d":-0.5},{"x":24,"y":21,"c":-0.87,"d":-0.34},{"x":25,"y":21,"c":-0.91,"d":-0.26},{"x":26,"y":21,"c":-0.94,"d":-0.17},{"x":27,"y":21,"c":-0.71,"d":-0.57},{"x":28,"y":21,"c":-0.17,"d":-0.94},{"x":29,"y":21,"c":0.09,"d":-1},{"x":30,"y":21,"c":-0.42,"d":-0.82},{"x":31,"y":21,"c":-0.71,"d":-0.57},
{"x":0,"y":22,"c":-0.26,"d":0.97},{"x":1,"y":22,"c":-0.87,"d":0.87},{"x":2,"y":22,"c":-0.87,"d":0.87},{"x":3,"y":22,"c":-0.97,"d":0.71},{"x":4,"y":22,"c":-0.91,"d":0.82},{"x":5,"y":22,"c":-1,"d":0.57},{"x":6,"y":22,"c":-0.98,"d":0.34},{"x":7,"y":22,"c":-1,"d":0.42},{"x":8,"y":22,"c":-0.97,"d":0.71},{"x":9,"y":22,"c":-0.97,"d":0.26},{"x":10,"y":22,"c":-0.64,"d":-0.34},{"x":11,"y":22,"c":-0.5,"d":-0.5},{"x":12,"y":22,"c":-0.98,"d":0.34},{"x":13,"y":22,"c":-0.98,"d":0.64},{"x":14,"y":22,"c":-0.94,"d":0.77},{"x":15,"y":22,"c":-0.77,"d":0.94},{"x":16,"y":22,"c":-0.87,"d":0.87},{"x":17,"y":22,"c":-0.82,"d":0.91},{"x":18,"y":22,"c":-0.94,"d":0.77},{"x":19,"y":22,"c":-1,"d":0.57},{"x":20,"y":22,"c":-0.98,"d":0.34},{"x":21,"y":22,"c":-0.94,"d":0.17},{"x":22,"y":22,"c":-0.87,"d":0},{"x":23,"y":22,"c":-0.64,"d":-0.34},{"x":24,"y":22,"c":-0.77,"d":-0.17},{"x":25,"y":22,"c":-0.82,"d":-0.09},{"x":26,"y":22,"c":-0.87,"d":0},{"x":27,"y":22,"c":-0.57,"d":-0.42},{"x":28,"y":22,"c":0,"d":-0.87},{"x":29,"y":22,"c":0.26,"d":-0.97},{"x":30,"y":22,"c":-0.26,"d":-0.71},{"x":31,"y":22,"c":-0.57,"d":-0.42},
{"x":0,"y":23,"c":-0.57,"d":0.82},{"x":1,"y":23,"c":-0.98,"d":0.98},{"x":2,"y":23,"c":-0.98,"d":0.98},{"x":3,"y":23,"c":-1,"d":0.91},{"x":4,"y":23,"c":-1,"d":0.97},{"x":5,"y":23,"c":-0.97,"d":0.82},{"x":6,"y":23,"c":-0.87,"d":0.64},{"x":7,"y":23,"c":-0.91,"d":0.71},{"x":8,"y":23,"c":-1,"d":0.91},{"x":9,"y":23,"c":-0.82,"d":0.57},{"x":10,"y":23,"c":-0.34,"d":0},{"x":11,"y":23,"c":-0.17,"d":-0.17},{"x":12,"y":23,"c":-0.87,"d":0.64},{"x":13,"y":23,"c":-0.98,"d":0.87},{"x":14,"y":23,"c":-1,"d":0.94},{"x":15,"y":23,"c":-0.94,"d":1},{"x":16,"y":23,"c":-0.98,"d":0.98},{"x":17,"y":23,"c":-0.97,"d":1},{"x":18,"y":23,"c":-1,"d":0.94},{"x":19,"y":23,"c":-0.97,"d":0.82},{"x":20,"y":23,"c":-0.87,"d":0.64},{"x":21,"y":23,"c":-0.77,"d":0.5},{"x":22,"y":23,"c":-0.64,"d":0.34},{"x":23,"y":23,"c":-0.34,"d":0},{"x":24,"y":23,"c":-0.5,"d":0.17},{"x":25,"y":23,"c":-0.57,"d":0.26},{"x":26,"y":23,"c":-0.64,"d":0.34},{"x":27,"y":23,"c":-0.26,"d":-0.09},{"x":28,"y":23,"c":0.34,"d":-0.64},{"x":29,"y":23,"c":0.57,"d":-0.82},{"x":30,"y":23,"c":0.09,"d":-0.42},{"x":31,"y":23,"c":-0.26,"d":-0.09},
{"x":0,"y":24,"c":-0.42,"d":0.91},{"x":1,"y":24,"c":-0.94,"d":0.94},{"x":2,"y":24,"c":-0.94,"d":0.94},{"x":3,"y":24,"c":-1,"d":0.82},{"x":4,"y":24,"c":-0.97,"d":0.91},{"x":5,"y":24,"c":-1,"d":0.71},{"x":6,"y":24,"c":-0.94,"d":0.5},{"x":7,"y":24,"c":-0.97,"d":0.57},{"x":8,"y":24,"c":-1,"d":0.82},{"x":9,"y":24,"c":-0.91,"d":0.42},{"x":10,"y":24,"c":-0.5,"d":-0.17},{"x":11,"y":24,"c":-0.34,"d":-0.34},{"x":12,"y":24,"c":-0.94,"d":0.5},{"x":13,"y":24,"c":-1,"d":0.77},{"x":14,"y":24,"c":-0.98,"d":0.87},{"x":15,"y":24,"c":-0.87,"d":0.98},{"x":16,"y":24,"c":-0.94,"d":0.94},{"x":17,"y":24,"c":-0.91,"d":0.97},{"x":18,"y":24,"c":-0.98,"d":0.87},{"x":19,"y":24,"c":-1,"d":0.71},{"x":20,"y":24,"c":-0.94,"d":0.5},{"x":21,"y":24,"c":-0.87,"d":0.34},{"x":22,"y":24,"c":-0.77,"d":0.17},{"x":23,"y":24,"c":-0.5,"d":-0.17},{"x":24,"y":24,"c":-0.64,"d":0},{"x":25,"y":24,"c":-0.71,"d":0.09},{"x":26,"y":24,"c":-0.77,"d":0.17},{"x":27,"y":24,"c":-0.42,"d":-0.26},{"x":28,"y":24,"c":0.17,"d":-0.77},{"x":29,"y":24,"c":0.42,"d":-0.91},{"x":30,"y":24,"c":-0.09,"d":-0.57},{"x":31,"y":24,"c":-0.42,"d":-0.26},
{"x":0,"y":25,"c":-0.34,"d":0.94},{"x":1,"y":25,"c":-0.91,"d":0.91},{"x":2,"y":25,"c":-0.91,"d":0.91},{"x":3,"y":25,"c":-0.98,"d":0.77},{"x":4,"y":25,"c":-0.94,"d":0.87},{"x":5,"y":25,"c":-1,"d":0.64},{"x":6,"y":25,"c":-0.97,"d":0.42},{"x":7,"y":25,"c":-0.98,"d":0.5},{"x":8,"y":25,"c":-0.98,"d":0.77},{"x":9,"y":25,"c":-0.94,"d":0.34},{"x":10,"y":25,"c":-0.57,"d":-0.26},{"x":11,"y":25,"c":-0.42,"d":-0.42},{"x":12,"y":25,"c":-0.97,"d":0.42},{"x":13,"y":25,"c":-1,"d":0.71},{"x":14,"y":25,"c":-0.97,"d":0.82},{"x":15,"y":25,"c":-0.82,"d":0.97},{"x":16,"y":25,"c":-0.91,"d":0.91},{"x":17,"y":25,"c":-0.87,"d":0.94},{"x":18,"y":25,"c":-0.97,"d":0.82},{"x":19,"y":25,"c":-1,"d":0.64},{"x":20,"y":25,"c":-0.97,"d":0.42},{"x":21,"y":25,"c":-0.91,"d":0.26},{"x":22,"y":25,"c":-0.82,"d":0.09},{"x":23,"y":25,"c":-0.57,"d":-0.26},{"x":24,"y":25,"c":-0.71,"d":-0.09},{"x":25,"y":25,"c":-0.77,"d":0},{"x":26,"y":25,"c":-0.82,"d":0.09},{"x":27,"y":25,"c":-0.5,"d":-0.34},{"x":28,"y":25,"c":0.09,"d":-0.82},{"x":29,"y":25,"c":0.34,"d":-0.94},{"x":30,"y":25,"c":-0.17,"d":-0.64},{"x":31,"y":25,"c":-0.5,"d":-0.34},
{"x":0,"y":26,"c":-0.26,"d":0.97},{"x":1,"y":26,"c":-0.87,"d":0.87},{"x":2,"y":26,"c":-0.87,"d":0.87},{"x":3,"y":26,"c":-0.97,"d":0.71},{"x":4,"y":26,"c":-0.91,"d":0.82},{"x":5,"y":26,"c":-1,"d":0.57},{"x":6,"y":26,"c":-0.98,"d":0.34},{"x":7,"y":26,"c":-1,"d":0.42},{"x":8,"y":26,"c":-0.97,"d":0.71},{"x":9,"y":26,"c":-0.97,"d":0.26},{"x":10,"y":26,"c":-0.64,"d":-0.34},{"x":11,"y":26,"c":-0.5,"d":-0.5},{"x":12,"y":26,"c":-0.98,"d":0.34},{"x":13,"y":26,"c":-0.98,"d":0.64},{"x":14,"y":26,"c":-0.94,"d":0.77},{"x":15,"y":26,"c":-0.77,"d":0.94},{"x":16,"y":26,"c":-0.87,"d":0.87},{"x":17,"y":26,"c":-0.82,"d":0.91},{"x":18,"y":26,"c":-0.94,"d":0.77},{"x":19,"y":26,"c":-1,"d":0.57},{"x":20,"y":26,"c":-0.98,"d":0.34},{"x":21,"y":26,"c":-0.94,"d":0.17},{"x":22,"y":26,"c":-0.87,"d":0},{"x":23,"y":26,"c":-0.64,"d":-0.34},{"x":24,"y":26,"c":-0.77,"d":-0.17},{"x":25,"y":26,"c":-0.82,"d":-0.09},{"x":26,"y":26,"c":-0.87,"d":0},{"x":27,"y":26,"c":-0.57,"d":-0.42},{"x":28,"y":26,"c":0,"d":-0.87},{"x":29,"y":26,"c":0.26,"d":-0.97},{"x":30,"y":26,"c":-0.26,"d":-0.71},{"x":31,"y":26,"c":-0.57,"d":-0.42},
{"x":0,"y":27,"c":-0.64,"d":0.77},{"x":1,"y":27,"c":-1,"d":1},{"x":2,"y":27,"c":-1,"d":1},{"x":3,"y":27,"c":-0.98,"d":0.94},{"x":4,"y":27,"c":-1,"d":0.98},{"x":5,"y":27,"c":-0.94,"d":0.87},{"x":6,"y":27,"c":-0.82,"d":0.71},{"x":7,"y":27,"c":-0.87,"d":0.77},{"x":8,"y":27,"c":-0.98,"d":0.94},{"x":9,"y":27,"c":-0.77,"d":0.64},{"x":10,"y":27,"c":-0.26,"d":0.09},{"x":11,"y":27,"c":-0.09,"d":-0.09},{"x":12,"y":27,"c":-0.82,"d":0.71},{"x":13,"y":27,"c":-0.97,"d":0.91},{"x":14,"y":27,"c":-1,"d":0.97},{"x":15,"y":27,"c":-0.97,"d":1},{"x":16,"y":27,"c":-1,"d":1},{"x":17,"y":27,"c":-0.98,"d":1},{"x":18,"y":27,"c":-1,"d":0.97},{"x":19,"y":27,"c":-0.94,"d":0.87},{"x":20,"y":27,"c":-0.82,"d":0.71},{"x":21,"y":27,"c":-0.71,"d":0.57},{"x":22,"y":27,"c":-0.57,"d":0.42},{"x":23,"y":27,"c":-0.26,"d":0.09},{"x":24,"y":27,"c":-0.42,"d":0.26},{"x":25,"y":27,"c":-0.5,"d":0.34},{"x":26,"y":27,"c":-0.57,"d":0.42},{"x":27,"y":27,"c":-0.17,"d":0},{"x":28,"y":27,"c":0.42,"d":-0.57},{"x":29,"y":27,"c":0.64,"d":-0.77},{"x":30,"y":27,"c":0.17,"d":-0.34},{"x":31,"y":27,"c":-0.17,"d":0},
{"x":0,"y":28,"c":-0.97,"d":0.26},{"x":1,"y":28,"c":-0.87,"d":0.87},{"x":2,"y":28,"c":-0.87,"d":0.87},{"x":3,"y":28,"c":-0.71,"d":0.97},{"x":4,"y":28,"c":-0.82,"d":0.91},{"x":5,"y":28,"c":-0.57,"d":1},{"x":6,"y":28,"c":-0.34,"d":0.98},{"x":7,"y":28,"c":-0.42,"d":1},{"x":8,"y":28,"c":-0.71,"d":0.97},{"x":9,"y":28,"c":-0.26,"d":0.97},{"x":10,"y":28,"c":0.34,"d":0.64},{"x":11,"y":28,"c":0.5,"d":0.5},{"x":12,"y":28,"c":-0.34,"d":0.98},{"x":13,"y":28,"c":-0.64,"d":0.98},{"x":14,"y":28,"c":-0.77,"d":0.94},{"x":15,"y":28,"c":-0.94,"d":0.77},{"x":16,"y":28,"c":-0.87,"d":0.87},{"x":17,"y":28,"c":-0.91,"d":0.82},{"x":18,"y":28,"c":-0.77,"d":0.94},{"x":19,"y":28,"c":-0.57,"d":1},{"x":20,"y":28,"c":-0.34,"d":0.98},{"x":21,"y":28,"c":-0.17,"d":0.94},{"x":22,"y":28,"c":0,"d":0.87},{"x":23,"y":28,"c":0.34,"d":0.64},{"x":24,"y":28,"c":0.17,"d":0.77},{"x":25,"y":28,"c":0.09,"d":0.82},{"x":26,"y":28,"c":0,"d":0.87},{"x":27,"y":28,"c":0.42,"d":0.57},{"x":28,"y":28,"c":0.87,"d":0},{"x":29,"y":28,"c":0.97,"d":-0.26},{"x":30,"y":28,"c":0.71,"d":0.26},{"x":31,"y":28,"c":0.42,"d":0.57},
{"x":0,"y":29,"c":-1,"d":0},{"x":1,"y":29,"c":-0.71,"d":0.71},{"x":2,"y":29,"c":-0.71,"d":0.71},{"x":3,"y":29,"c":-0.5,"d":0.87},{"x":4,"y":29,"c":-0.64,"d":0.77},{"x":5,"y":29,"c":-0.34,"d":0.94},{"x":6,"y":29,"c":-0.09,"d":1},{"x":7,"y":29,"c":-0.17,"d":0.98},{"x":8,"y":29,"c":-0.5,"d":0.87},{"x":9,"y":29,"c":0,"d":1},{"x":10,"y":29,"c":0.57,"d":0.82},{"x":11,"y":29,"c":0.71,"d":0.71},{"x":12,"y":29,"c":-0.09,"d":1},{"x":13,"y":29,"c":-0.42,"d":0.91},{"x":14,"y":29,"c":-0.57,"d":0.82},{"x":15,"y":29,"c":-0.82,"d":0.57},{"x":16,"y":29,"c":-0.71,"d":0.71},{"x":17,"y":29,"c":-0.77,"d":0.64},{"x":18,"y":29,"c":-0.57,"d":0.82},{"x":19,"y":29,"c":-0.34,"d":0.94},{"x":20,"y":29,"c":-0.09,"d":1},{"x":21,"y":29,"c":0.09,"d":1},{"x":22,"y":29,"c":0.26,"d":0.97},{"x":23,"y":29,"c":0.57,"d":0.82},{"x":24,"y":29,"c":0.42,"d":0.91},{"x":25,"y":29,"c":0.34,"d":0.94},{"x":26,"y":29,"c":0.26,"d":0.97},{"x":27,"y":29,"c":0.64,"d":0.77},{"x":28,"y":29,"c":0.97,"d":0.26},{"x":29,"y":29,"c":1,"d":0},{"x":30,"y":29,"c":0.87,"d":0.5},{"x":31,"y":29,"c":0.64,"d":0.77},
{"x":0,"y":30,"c":-0.87,"d":0.5},{"x":1,"y":30,"c":-0.97,"d":0.97},{"x":2,"y":30,"c":-0.97,"d":0.97},{"x":3,"y":30,"c":-0.87,"d":1},{"x":4,"y":30,"c":-0.94,"d":0.98},{"x":5,"y":30,"c":-0.77,"d":0.98},{"x":6,"y":30,"c":-0.57,"d":0.91},{"x":7,"y":30,"c":-0.64,"d":0.94},{"x":8,"y":30,"c":-0.87,"d":1},{"x":9,"y":30,"c":-0.5,"d":0.87},{"x":10,"y":30,"c":0.09,"d":0.42},{"x":11,"y":30,"c":0.26,"d":0.26},{"x":12,"y":30,"c":-0.57,"d":0.91},{"x":13,"y":30,"c":-0.82,"d":1},{"x":14,"y":30,"c":-0.91,"d":1},{"x":15,"y":30,"c":-1,"d":0.91},{"x":16,"y":30,"c":-0.97,"d":0.97},{"x":17,"y":30,"c":-0.98,"d":0.94},{"x":18,"y":30,"c":-0.91,"d":1},{"x":19,"y":30,"c":-0.77,"d":0.98},{"x":20,"y":30,"c":-0.57,"d":0.91},{"x":21,"y":30,"c":-0.42,"d":0.82},{"x":22,"y":30,"c":-0.26,"d":0.71},{"x":23,"y":30,"c":0.09,"d":0.42},{"x":24,"y":30,"c":-0.09,"d":0.57},{"x":25,"y":30,"c":-0.17,"d":0.64},{"x":26,"y":30,"c":-0.26,"d":0.71},{"x":27,"y":30,"c":0.17,"d":0.34},{"x":28,"y":30,"c":0.71,"d":-0.26},{"x":29,"y":30,"c":0.87,"d":-0.5},{"x":30,"y":30,"c":0.5,"d":0},{"x":31,"y":30,"c":0.17,"d":0.34},
{"x":0,"y":31,"c":-0.64,"d":0.77},{"x":1,"y":31,"c":-1,"d":1},{"x":2,"y":31,"c":-1,"d":1},{"x":3,"y":31,"c":-0.98,"d":0.94},{"x":4,"y":31,"c":-1,"d":0.98},{"x":5,"y":31,"c":-0.94,"d":0.87},{"x":6,"y":31,"c":-0.82,"d":0.71},{"x":7,"y":31,"c":-0.87,"d":0.77},{"x":8,"y":31,"c":-0.98,"d":0.94},{"x":9,"y":31,"c":-0.77,"d":0.64},{"x":10,"y":31,"c":-0.26,"d":0.09},{"x":11,"y":31,"c":-0.09,"d":-0.09},{"x":12,"y":31,"c":-0.82,"d":0.71},{"x":13,"y":31,"c":-0.97,"d":0.91},{"x":14,"y":31,"c":-1,"d":0.97},{"x":15,"y":31,"c":-0.97,"d":1},{"x":16,"y":31,"c":-1,"d":1},{"x":17,"y":31,"c":-0.98,"d":1},{"x":18,"y":31,"c":-1,"d":0.97},{"x":19,"y":31,"c":-0.94,"d":0.87},{"x":20,"y":31,"c":-0.82,"d":0.71},{"x":21,"y":31,"c":-0.71,"d":0.57},{"x":22,"y":31,"c":-0.57,"d":0.42},{"x":23,"y":31,"c":-0.26,"d":0.09},{"x":24,"y":31,"c":-0.42,"d":0.26},{"x":25,"y":31,"c":-0.5,"d":0.34},{"x":26,"y":31,"c":-0.57,"d":0.42},{"x":27,"y":31,"c":-0.17,"d":0},{"x":28,"y":31,"c":0.42,"d":-0.57},{"x":29,"y":31,"c":0.64,"d":-0.77},{"x":30,"y":31,"c":0.17,"d":-0.34},{"x":31,"y":31,"c":-0.17,"d":0}
  ]
},
"columns": 2,
"align": "none",
"bounds": "flush",
"spacing": {"row": 63.7, "column": 13.2},
"resolve": {"scale": {"color": "independent"}, "legend": {"color": "independent"}},
"concat": [
  {
    "title": {"text": "(a)"},
    "width": 172, "height": 189.3,
    "layer": [
      {"data": {"name": "ts"}, "mark": {"type": "line", "color": "#1f77b4", "strokeWidth": 2.4},
       "encoding": {
         "x": {"field": "t", "type": "quantitative", "title": null, "scale": {"domain": [-6.35, 133.35], "nice": false, "zero": false}, "axis": {"values": [0, 50, 100]}},
         "y": {"field": "v", "type": "quantitative", "title": null, "scale": {"domain": [-3.44, 1.86], "nice": false, "zero": false}, "axis": {"values": [-3, -2, -1, 0, 1]}}
       }},
      {"data": {"name": "paa"}, "mark": {"type": "line", "color": "#ff7f0e", "strokeWidth": 2.4},
       "encoding": {
         "x": {"field": "t", "type": "quantitative"},
         "y": {"field": "v", "type": "quantitative"}
       }}
    ]
  },
  {
    "title": {"text": "(b)", "dx": -10},
    "width": 271, "height": 189.3,
    "view": {"stroke": null},
    "layer": [
      {"data": {"values": [{"x": 0, "y": 0, "x2": 0.7071, "y2": 0.7071}, {"x": 0, "y": 0, "x2": 0, "y2": 1}, {"x": 0, "y": 0, "x2": -0.7071, "y2": 0.7071}]},
       "mark": {"type": "rule", "color": "#b0b0b0", "strokeWidth": 1},
       "encoding": {
         "x": {"field": "x", "type": "quantitative", "scale": {"domain": [-0.9083, 1.35], "nice": false, "zero": false}, "axis": null},
         "y": {"field": "y", "type": "quantitative", "scale": {"domain": [-0.0858, 1.4917], "nice": false, "zero": false}, "axis": null},
         "x2": {"field": "x2"}, "y2": {"field": "y2"}
       }},
      {"data": {"values": [{"x": -1, "y": 0, "x2": 1, "y2": 0}]},
       "mark": {"type": "rule", "color": "#222222", "strokeWidth": 1.4},
       "encoding": {
         "x": {"field": "x", "type": "quantitative"}, "y": {"field": "y", "type": "quantitative"},
         "x2": {"field": "x2"}, "y2": {"field": "y2"}
       }},
      {"data": {"values": [{"x": 0, "y": 0}]},
       "mark": {"type": "point", "shape": "M -1 0 A 1 1 0 0 1 1 0", "size": 57600, "filled": false, "stroke": "black", "strokeWidth": 1.1, "opacity": 1},
       "encoding": {
         "x": {"field": "x", "type": "quantitative"}, "y": {"field": "y", "type": "quantitative"}
       }},
      {"data": {"name": "polar"},
       "mark": {"type": "line", "color": "#ff7f0e", "strokeWidth": 2.2},
       "encoding": {
         "x": {"field": "px", "type": "quantitative"}, "y": {"field": "py", "type": "quantitative"},
         "order": {"field": "k", "type": "quantitative"}
       }},
      {"data": {"values": [{"x": 1.2, "y": 0, "label": "0°"}, {"x": 0.855, "y": 0.855, "label": "45°"}, {"x": 0, "y": 1.2, "label": "90°"}, {"x": -0.855, "y": 0.855, "label": "135°"}, {"x": -1.22, "y": 0, "label": "180°"}]},
       "mark": {"type": "text", "fontSize": 12.5, "align": "center", "baseline": "middle", "font": "Liberation Serif", "color": "black"},
       "encoding": {
         "x": {"field": "x", "type": "quantitative"}, "y": {"field": "y", "type": "quantitative"},
         "text": {"field": "label"}
       }}
    ]
  },
  {
    "title": {"text": "(c)"},
    "width": 218.5, "height": 218.5,
    "data": {"name": "gaf"},
    "mark": {"type": "rect", "width": {"band": 1.08}, "height": {"band": 1.08}},
    "encoding": {
      "x": {"field": "x", "type": "ordinal", "title": null, "scale": {"paddingInner": 0, "paddingOuter": 0}, "axis": {"values": [0, 10, 20, 30], "labelAngle": 0}},
      "y": {"field": "y", "type": "ordinal", "sort": "descending", "title": null, "scale": {"paddingInner": 0, "paddingOuter": 0}, "axis": {"values": [0, 5, 10, 15, 20, 25, 30]}},
      "color": {"field": "c", "type": "quantitative", "legend": null, "scale": {"type": "linear", "domain": [-1, -0.875, -0.75, -0.625, -0.5, -0.375, -0.25, -0.125, 0, 0.125, 0.25, 0.375, 0.5, 0.625, 0.75, 0.875, 1], "range": ["#8000ff", "#6032fe", "#4062fa", "#208ef4", "#00b4ec", "#20d4e1", "#40ecd4", "#60fac5", "#80ffb4", "#9ffaa2", "#bfec8e", "#dfd478", "#ffb462", "#ff8e4a", "#ff6232", "#ff3219", "#ff0000"], "interpolate": "rgb"}}
    }
  },
  {
    "title": {"text": "(d)"},
    "width": 218.5, "height": 218.5,
    "data": {"name": "gaf"},
    "mark": {"type": "rect", "width": {"band": 1.08}, "height": {"band": 1.08}},
    "encoding": {
      "x": {"field": "x", "type": "ordinal", "title": null, "scale": {"paddingInner": 0, "paddingOuter": 0}, "axis": {"values": [0, 10, 20, 30], "labelAngle": 0}},
      "y": {"field": "y", "type": "ordinal", "sort": "descending", "title": null, "scale": {"paddingInner": 0, "paddingOuter": 0}, "axis": {"values": [0, 5, 10, 15, 20, 25, 30], "labels": false}},
      "color": {"field": "d", "type": "quantitative",
        "legend": {"type": "gradient", "title": null, "orient": "right", "offset": 13.2, "direction": "vertical", "gradientLength": 218.5, "gradientThickness": 14, "gradientStrokeColor": "black", "gradientStrokeWidth": 1, "values": [-1, -0.5, 0, 0.5, 1], "format": ".1f", "labelFontSize": 12.5, "labelFont": "Liberation Serif", "labelColor": "black", "labelOffset": 6, "labelOverlap": false, "padding": 0, "encode": {"labels": {"update": {"baseline": {"value": "middle"}}}}},
        "scale": {"type": "linear", "domain": [-1, -0.875, -0.75, -0.625, -0.5, -0.375, -0.25, -0.125, 0, 0.125, 0.25, 0.375, 0.5, 0.625, 0.75, 0.875, 1], "range": ["#8000ff", "#6032fe", "#4062fa", "#208ef4", "#00b4ec", "#20d4e1", "#40ecd4", "#60fac5", "#80ffb4", "#9ffaa2", "#bfec8e", "#dfd478", "#ffb462", "#ff8e4a", "#ff6232", "#ff3219", "#ff0000"], "interpolate": "rgb"}}
    }
  }
]
}
